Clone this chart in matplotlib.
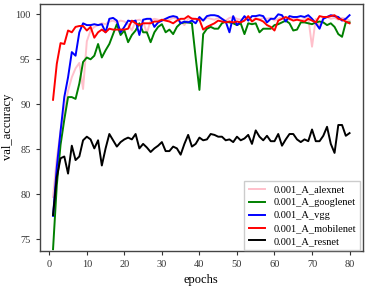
import numpy as np
import matplotlib
matplotlib.use("Agg")
import matplotlib.pyplot as plt

plt.rcParams['font.family'] = ['Liberation Serif', 'DejaVu Serif']

epochs = np.arange(1, 81)

alexnet = [79.7, 84.0, 87.0, 89.2, 91.5, 93.0, 94.0, 94.6, 91.7, 97.0,
           98.2, 98.6, 98.8, 99.0, 98.9, 99.2, 99.3, 99.1, 99.3, 99.2,
           98.9, 98.2, 99.3, 99.4, 99.2, 97.9, 99.3, 99.5, 99.4, 99.3,
           99.5, 99.4, 99.6, 99.5, 99.2, 98.8, 99.5, 99.6, 99.4, 99.5,
           99.3, 99.6, 99.5, 99.4, 99.6, 99.5, 99.3, 99.6, 99.7, 99.5,
           99.4, 99.6, 99.5, 99.3, 99.6, 99.4, 99.6, 99.5, 99.6, 99.3,
           99.5, 99.7, 99.6, 99.4, 99.6, 99.5, 99.3, 99.5, 99.6, 96.4,
           99.5, 98.7, 99.6, 99.7, 99.5, 99.6, 99.4, 99.6, 99.5, 99.3]

googlenet = [73.9, 81.0, 85.5, 88.3, 90.8, 90.8, 90.6, 92.3, 94.7, 95.2,
             95.0, 95.4, 96.7, 95.2, 96.0, 96.7, 97.8, 98.9, 97.7, 98.2,
             96.9, 97.7, 98.2, 99.0, 98.0, 98.0, 96.9, 98.0, 98.6, 98.9,
             98.0, 98.3, 97.8, 98.6, 99.0, 99.1, 99.1, 99.0, 95.2, 91.6,
             97.8, 98.4, 98.6, 98.4, 98.4, 99.0, 99.2, 99.1, 99.0, 98.8,
             99.0, 97.8, 99.0, 98.9, 99.0, 98.0, 98.4, 98.4, 98.4, 98.8,
             98.9, 99.1, 99.3, 99.0, 98.2, 98.3, 99.1, 99.1, 99.0, 98.9,
             99.1, 99.2, 99.1, 98.8, 99.0, 98.6, 97.8, 97.5, 99.1, 99.1]

vgg = [77.6, 83.0, 87.0, 90.8, 93.0, 95.8, 95.4, 98.0, 99.0, 98.8,
       98.8, 98.9, 98.8, 98.9, 98.0, 99.5, 99.6, 99.3, 98.0, 98.6,
       99.3, 99.2, 99.3, 97.7, 99.4, 99.5, 99.5, 98.6, 99.1, 99.3,
       99.5, 99.7, 99.8, 99.7, 99.0, 99.2, 99.1, 99.3, 99.0, 99.7,
       99.3, 99.8, 99.9, 99.9, 99.8, 99.5, 99.2, 98.0, 99.8, 98.8,
       99.2, 99.8, 99.3, 99.8, 99.8, 99.9, 99.8, 99.1, 99.5, 99.5,
       100.0, 99.9, 99.2, 99.8, 99.7, 99.7, 99.8, 99.7, 99.9, 99.5,
       99.0, 98.4, 99.5, 99.7, 99.9, 99.8, 99.7, 99.3, 99.5, 99.9]

mobilenet = [90.5, 94.5, 96.8, 96.7, 98.2, 98.0, 98.6, 98.7, 98.7, 98.2,
             98.6, 97.4, 98.0, 98.3, 98.0, 98.4, 98.3, 98.3, 98.3, 98.3,
             98.4, 99.3, 99.0, 98.8, 99.0, 99.0, 99.0, 99.2, 99.2, 99.4,
             99.3, 99.2, 99.0, 99.3, 99.5, 99.5, 99.8, 99.5, 99.5, 99.4,
             98.3, 98.6, 98.8, 99.0, 99.3, 99.2, 99.1, 99.2, 99.1, 99.2,
             99.1, 99.3, 99.8, 99.2, 99.5, 99.4, 99.2, 98.8, 98.6, 98.2,
             99.3, 99.5, 99.7, 99.5, 99.3, 99.4, 99.3, 99.2, 99.5, 99.3,
             99.1, 99.8, 99.7, 99.7, 99.8, 99.9, 99.5, 99.4, 99.2, 99.0]

resnet = [77.7, 81.9, 84.0, 84.2, 82.3, 85.4, 83.8, 84.2, 86.0, 86.4,
          86.1, 85.1, 86.0, 83.2, 85.1, 86.7, 86.0, 85.3, 85.8, 86.1,
          86.3, 86.1, 86.7, 85.1, 85.6, 85.2, 84.7, 85.1, 85.4, 85.8,
          84.8, 84.8, 85.3, 85.1, 84.4, 85.6, 86.6, 85.3, 85.6, 86.3,
          86.0, 86.1, 86.7, 86.6, 86.4, 86.4, 86.0, 86.1, 85.8, 86.4,
          86.0, 86.2, 86.6, 85.6, 87.1, 86.4, 86.0, 86.5, 85.9, 85.9,
          86.7, 85.4, 86.1, 86.7, 86.7, 86.1, 85.8, 86.1, 85.9, 87.2,
          85.9, 85.9, 86.5, 87.5, 85.6, 84.6, 87.7, 87.7, 86.5, 86.8]

labels = ['0.001_A_alexnet', '0.001_A_googlenet', '0.001_A_vgg',
          '0.001_A_mobilenet', '0.001_A_resnet']
colors = ['pink', 'green', 'blue', 'red', 'black']

fig = plt.figure(figsize=(3.66, 2.92), dpi=100)
ax = fig.add_axes([0.108, 0.142, 0.884, 0.846])

for series, label, color in zip([alexnet, googlenet, vgg, mobilenet, resnet], labels, colors):
    ax.plot(epochs, series, color=color, linewidth=1.4, label=label)

ax.set_xlim(-2.6, 83.6)
ax.set_ylim(73.75, 101.2)
ax.set_xticks(np.arange(0, 81, 10))
ax.set_yticks([75, 80, 85, 90, 95, 100])
ax.tick_params(labelsize=7.5, length=3, width=0.8, colors='#333333')
for s in ax.spines.values():
    s.set_color('#444444')
    s.set_linewidth(1.0)

ax.set_xlabel('epochs', fontsize=9, labelpad=4)
ax.set_ylabel('val_accuracy', fontsize=9, labelpad=1)
ax.legend(loc='lower right', bbox_to_anchor=(1.008, -0.02), fontsize=7.5,
          handlelength=1.6, labelspacing=0.35, borderpad=0.4,
          fancybox=False, framealpha=1, edgecolor='#cccccc')

fig.savefig('out.png', dpi=100)
